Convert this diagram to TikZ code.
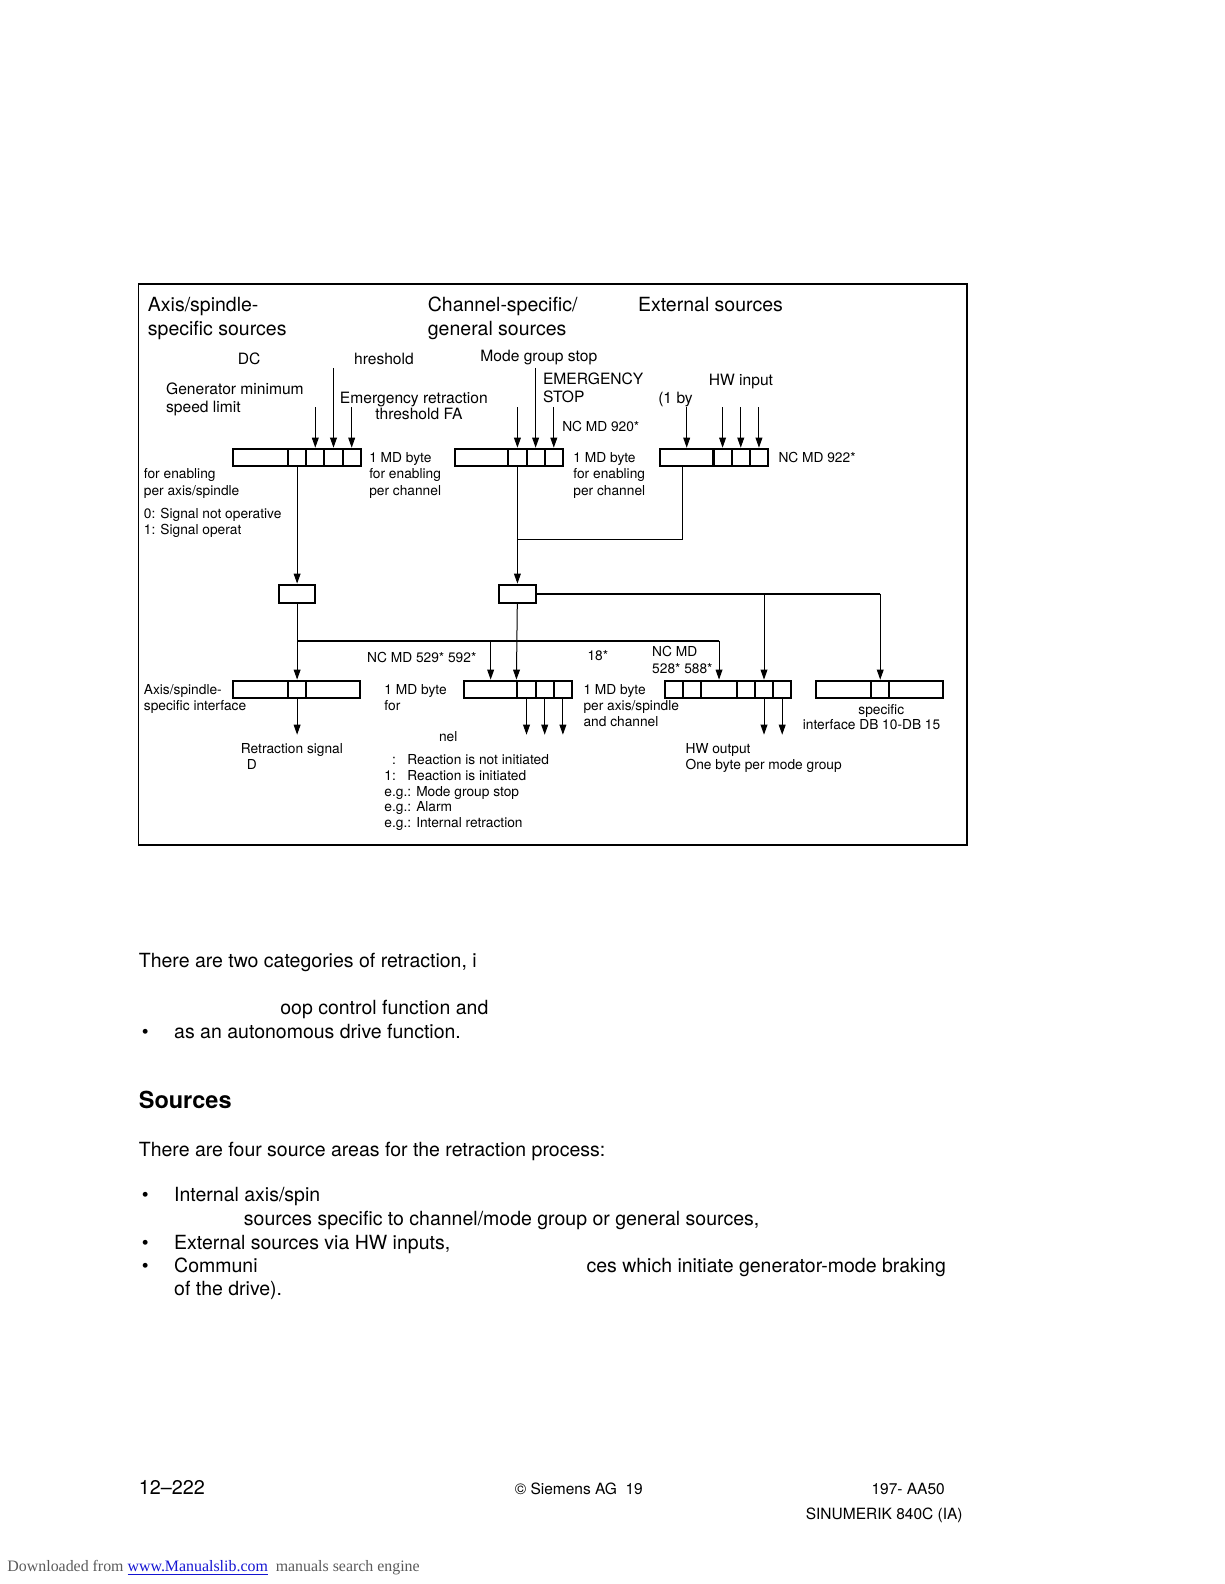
\documentclass[tikz,border=0pt]{standalone}
\usepackage{fontspec}
\setmainfont{TeX Gyre Heros}
\newfontfamily\dlfont{Liberation Serif}
\usetikzlibrary{arrows.meta}
\definecolor{dlgray}{RGB}{90,90,90}
\definecolor{linkblue}{RGB}{20,20,210}

\begin{document}
\begin{tikzpicture}[x=0.5053pt, y=-0.5053pt,
		cell/.style={draw, line width=1pt, inner sep=0pt, minimum height=8.6pt, minimum width=9.1pt},
		arr/.style={line width=0.5pt, -{Triangle[length=5pt,width=3.4pt]}},
		wire/.style={line width=0.5pt},
		bus/.style={line width=1pt},
		hd/.style={anchor=base west, inner sep=0pt, align=left, font=\fontsize{9.75}{12.1}\selectfont},
		md/.style={anchor=base west, inner sep=0pt, align=left, font=\fontsize{7.8}{9.1}\selectfont},
		sm/.style={anchor=base west, inner sep=0pt, align=left, font=\fontsize{6.87}{8.1}\selectfont},
		txt/.style={anchor=base west, inner sep=0pt, font=\fontsize{9.75}{12}\selectfont},
		ft/.style={anchor=base west, inner sep=0pt, font=\fontsize{7.75}{9.5}\selectfont}]
		\useasboundingbox (0,0) rectangle (1211.2,1567.4);
		\draw[line width=0.8pt] (137,281) rectangle (957,836);
		
		% multi-line nodes sit on the baseline of their last line
		\node[hd] (hax) at (146,332) {Axis/spindle-\\specific sources};
		\node[hd] (hch) at (423,332) {Channel-specific/\\general sources};
		\node[hd] (hex) at (631,308) {External sources};
		
		\node[md] (ldc) at (235,361) {DC};
		\node[md] (lthr) at (350,361) {hreshold};
		\node[md] (lmgs) at (475,358) {Mode group stop};
		\node[md] (lgen) at (164,408) {Generator minimum\\speed limit};
		\node[md] (lera) at (336,399) {Emergency retraction};
		\node[md] (lfa) at (371,415.5) {threshold FA};
		\node[md] (lest) at (537,398) {EMERGENCY\\STOP};
		\node[md] (lby) at (651,399) {(1 by};
		\node[md] (lhwi) at (701,381) {HW input};
		\node[sm] (l920) at (556,427) {NC MD 920*};
		
		% first row of MD bytes
		\node[cell, minimum width=27.3pt] (ax0) at (258,452.5) {};
		\node[cell] (ax1) at (294,452.5) {};
		\node[cell] (ax2) at (312,452.5) {};
		\node[cell] (ax3) at (330,452.5) {};
		\node[cell] (ax4) at (348,452.5) {};
		\node[cell, minimum width=26.8pt] (ch0) at (476.5,452.5) {};
		\node[cell] (ch1) at (512,452.5) {};
		\node[cell] (ch2) at (530,452.5) {};
		\node[cell] (ch3) at (548,452.5) {};
		\node[cell, minimum width=26.8pt] (ex0) at (679.5,452.5) {};
		\node[cell] (ex1) at (715,452.5) {};
		\node[cell] (ex2) at (733,452.5) {};
		\node[cell] (ex3) at (751,452.5) {};
		
		\coordinate (gmin) at (312,403);
		\coordinate (thr) at (330,364);
		\coordinate (era) at (348,403);
		\coordinate (mgs) at (512,403);
		\coordinate (est) at (530,364);
		\coordinate (nc920) at (548,403);
		\coordinate (hwa) at (679.5,403);
		\coordinate (hwb) at (715,403);
		\coordinate (hwc) at (733,403);
		\coordinate (hwd) at (751,403);
		\draw[arr] (gmin) -- (ax2);
		\draw[arr] (thr) -- (ax3);
		\draw[arr] (era) -- (ax4);
		\draw[arr] (mgs) -- (ch1);
		\draw[arr] (est) -- (ch2);
		\draw[arr] (nc920) -- (ch3);
		\draw[arr] (hwa) -- (ex0);
		\draw[arr] (hwb) -- (ex1);
		\draw[arr] (hwc) -- (ex2);
		\draw[arr] (hwd) -- (ex3);
		
		\node[sm] (lmda) at (365,490) {1 MD byte\\for enabling\\per channel};
		\node[sm] (lmdb) at (567,490) {1 MD byte\\for enabling\\per channel};
		\node[sm] (l922) at (770,458) {NC MD 922*};
		\node[sm] (lena) at (142,490) {for enabling\\per axis/spindle};
		\node[sm] (lsig) at (142,529) {0: Signal not operative\\1: Signal operat};
		
		% logic boxes
		\node[cell, minimum width=18.2pt, minimum height=9.1pt] (sa) at (294,587.5) {};
		\node[cell, minimum width=18.2pt, minimum height=9.1pt] (sb) at (512,587.5) {};
		\coordinate (join) at (512,534);
		\draw[arr] (ax1) -- (sa);
		\draw[arr] (ch1) -- (sb);
		\draw[wire] ([xshift=-2pt]ex0.south) |- (join);
		
		% second row
		\node[cell, minimum width=27.3pt] (ai0) at (258,682) {};
		\node[cell] (ai1) at (294,682) {};
		\node[cell, minimum width=26.8pt] (ai2) at (329.5,682) {};
		\node[cell, minimum width=26.8pt] (mo0) at (485.5,682) {};
		\node[cell] (mo1) at (521,682) {};
		\node[cell] (mo2) at (539,682) {};
		\node[cell] (mo3) at (557,682) {};
		\node[cell] (hw1) at (667,682) {};
		\node[cell] (hw2) at (685,682) {};
		\node[cell, minimum width=17.7pt] (hw3) at (711.5,682) {};
		\node[cell] (hw4) at (738,682) {};
		\node[cell] (hw5) at (756,682) {};
		\node[cell] (hw6) at (774,682) {};
		\node[cell, minimum width=27.8pt] (pl0) at (834.5,682) {};
		\node[cell] (pl1) at (871,682) {};
		\node[cell, minimum width=26.8pt] (pl2) at (906.5,682) {};
		
		\coordinate (jl) at (294,634);
		\coordinate (jr) at (711.5,634);
		\draw[arr] (sa) -- (ai1);
		\draw[bus] (jl) -- (jr);
		\draw[arr] (jr) -- (hw3);
		\draw[arr] (jl -| mo0) -- (mo0);
		\draw[arr] (sb) -- (mo1.north west);
		\draw[bus] (sb) -- (sb -| pl1);
		\draw[arr] (sb -| hw5) -- (hw5);
		\draw[arr] (sb -| pl1) -- (pl1);
		
		\coordinate (rsig) at (294,727);
		\coordinate (mq1) at (521,727);
		\coordinate (mq2) at (539,727);
		\coordinate (mq3) at (557,727);
		\coordinate (hq5) at (756,727);
		\coordinate (hq6) at (774,727);
		\draw[arr] (ai1) -- (rsig);
		\draw[arr] (mo1) -- (mq1);
		\draw[arr] (mo2) -- (mq2);
		\draw[arr] (mo3) -- (mq3);
		\draw[arr] (hw5) -- (hq5);
		\draw[arr] (hw6) -- (hq6);
		
		\node[sm] (l529) at (363,656) {NC MD 529* 592*};
		\node[sm] (l18) at (581,654) {18*};
		\node[sm] (l528) at (645,666) {NC MD\\528* 588*};
		\node[sm] (laif) at (142,703) {Axis/spindle-\\specific interface};
		\node[sm] (lmdc) at (380,703) {1 MD byte\\for};
		\node[sm] (lmdd) at (577,719) {1 MD byte\\per axis/spindle\\and channel};
		\node[sm] (lspc) at (849,707) {specific};
		\node[sm] (lidb) at (794,722) {interface DB 10-DB 15};
		\node[sm] (lnel) at (434,734) {nel};
		\node[sm] (lret) at (238,746) {Retraction signal};
		\node[sm] (ld) at (244,761) {D};
		\node[sm, font=\fontsize{6.87}{7.7}\selectfont] (lhwo) at (678,761) {HW output\\One byte per mode group};
		\node[sm, font=\fontsize{6.87}{7.85}\selectfont] (lreac) at (380,819)
		{\makebox[11.5pt][l]{\hphantom{1}:}Reaction is not initiated\\
			\makebox[11.5pt][l]{1:}Reaction is initiated\\
			e.g.: Mode group stop\\
			e.g.: Alarm\\
			e.g.: Internal retraction};
		
		% text below
		\node[txt] (p1) at (137,957) {There are two categories of retraction, i};
		\node[txt] (p2) at (277,1004) {oop control function and};
		\node[txt] (bu1) at (140,1028) {•};
		\node[txt] (p3) at (172,1028) {as an autonomous drive function.};
		\node[anchor=base west, inner sep=0pt, font=\fontsize{11.75}{14}\selectfont\bfseries] (hsrc) at (137,1097) {Sources};
		\node[txt] (p4) at (137,1144) {There are four source areas for the retraction process:};
		\node[txt] (bu2) at (140,1189) {•};
		\node[txt] (p5) at (172,1189) {Internal axis/spin};
		\node[txt] (p6) at (241,1213) {sources specific to channel/mode group or general sources,};
		\node[txt] (bu3) at (140,1236) {•};
		\node[txt] (p7) at (172,1236) {External sources via HW inputs,};
		\node[txt] (bu4) at (140,1259) {•};
		\node[txt] (p8) at (172,1259) {Communi};
		\node[txt] (p9) at (580,1259) {ces which initiate generator-mode braking};
		\node[txt] (p10) at (172,1282) {of the drive).};
		
		\node[txt, font=\fontsize{9.9}{12}\selectfont] (pg) at (137,1479) {12–222};
		\node[ft] (cop) at (509,1479) {© Siemens AG\ \ 19};
		\node[ft] (doc) at (862,1479) {197- AA50};
		\node[ft] (prd) at (797,1504) {SINUMERIK 840C (IA)};
		\node[anchor=base west, inner sep=0pt, text=dlgray, font=\dlfont\fontsize{7.95}{10}\selectfont] (dl) at (7,1555)
		{Downloaded from \textcolor{linkblue}{\underline{www.Manualslib.com}}\ \ manuals search engine};
\end{tikzpicture}
\end{document}
